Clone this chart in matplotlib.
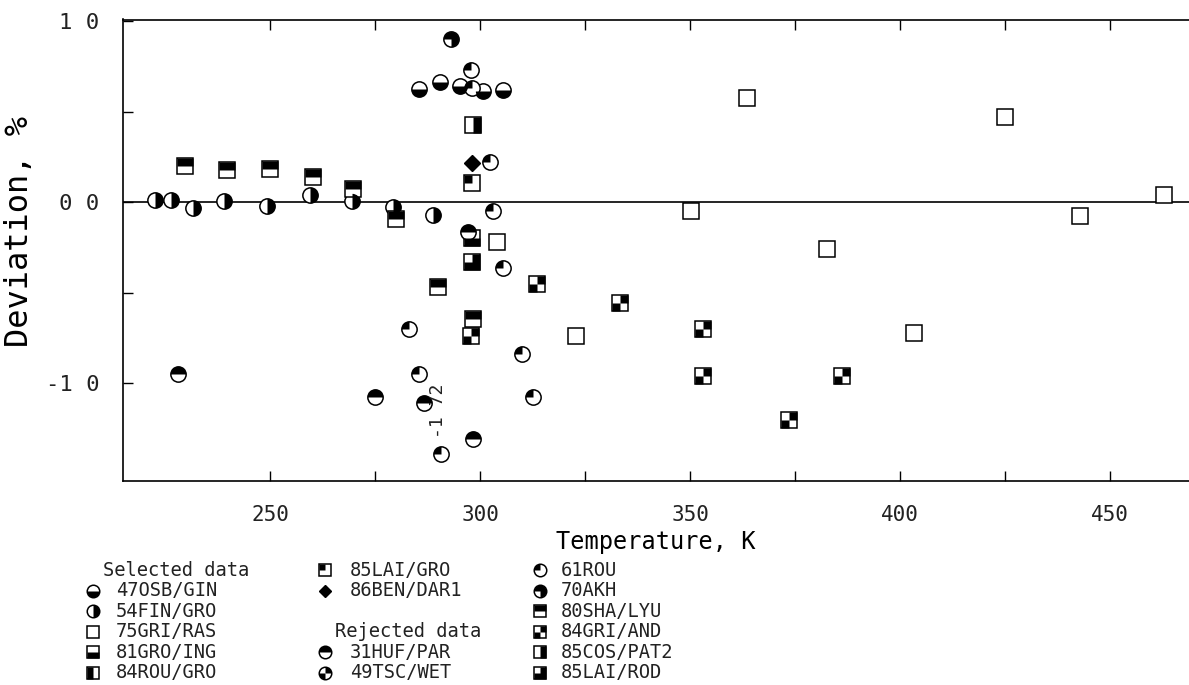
import matplotlib
matplotlib.use("Agg")
import matplotlib.pyplot as plt
from matplotlib.path import Path

# ---- data (T in K, deviation in %) ----
osb_T = [285.5, 290.5, 295.2, 300.6, 305.5]
osb_d = [0.626, 0.663, 0.641, 0.617, 0.623]

fin_T = [222.5, 226.4, 231.7, 239.0, 249.2, 259.5, 269.6, 279.4, 288.9]
fin_d = [0.011, 0.015, -0.031, 0.008, -0.022, 0.042, 0.008, -0.026, -0.071]

gri_ras_T = [304.0, 322.9, 350.3, 363.6, 382.5, 403.3, 425.0, 442.9, 462.9]
gri_ras_d = [-0.22, -0.74, -0.05, 0.575, -0.26, -0.72, 0.47, -0.075, 0.042]

gro_ing_T = [298.0]
gro_ing_d = [-0.20]

lai_gro_T = [298.0]
lai_gro_d = [0.106]

ben_T = [298.0]
ben_d = [0.217]

huf_T = [228.0, 275.0, 286.7, 297.2, 298.4]
huf_d = [-0.95, -1.076, -1.11, -0.163, -1.306]

rou61_T = [297.8, 298.0, 302.4, 303.2, 305.5, 283.2, 309.9, 285.5, 312.5, 290.7]
rou61_d = [0.73, 0.63, 0.225, -0.048, -0.365, -0.70, -0.836, -0.95, -1.076, -1.389]

akh_T = [293.0]
akh_d = [0.90]

sha_T = [229.8, 239.8, 250.0, 260.2, 269.8, 280.0, 290.1, 298.3]
sha_d = [0.203, 0.179, 0.184, 0.139, 0.075, -0.093, -0.467, -0.643]

gri_and_T = [313.5, 333.3, 297.8, 353.0, 353.2, 373.6, 386.1]
gri_and_d = [-0.45, -0.555, -0.74, -0.70, -0.96, -1.205, -0.96]

cos_T = [298.3]
cos_d = [0.426]

lai_rod_T = [298.0]
lai_rod_d = [-0.33]

xticks = [250, 300, 350, 400, 450]
yticks = [1.0, 0.0, -1.0]
ytick_labels = ["1 0", "0 0", "-1 0"]

FONT = "DejaVu Sans Mono"
W, H = 1189, 685


# ---- marker pieces ----
def box(pts):
    # polygon in [-1,1] box; two leading moves keep marker scaling equal to 's'
    verts = [(-1, -1), (1, 1)] + pts + [pts[0]]
    codes = [Path.MOVETO, Path.MOVETO, Path.MOVETO] + [Path.LINETO] * (len(pts) - 1) + [Path.CLOSEPOLY]
    return Path(verts, codes)


def wedge(a, b):
    return Path.wedge(a, b)


SQ_TOP = box([(-1, 0), (1, 0), (1, 1), (-1, 1)])
SQ_BOT = box([(-1, -1), (1, -1), (1, 0), (-1, 0)])
SQ_LEFT = box([(-1, -1), (0, -1), (0, 1), (-1, 1)])
SQ_RIGHT = box([(0, -1), (1, -1), (1, 1), (0, 1)])
SQ_TL = box([(-1, 0), (0, 0), (0, 1), (-1, 1)])
SQ_NOT_TL = box([(-1, -1), (1, -1), (1, 1), (0, 1), (0, 0), (-1, 0)])
SQ_CHECK = Path.make_compound_path(box([(0, 0), (1, 0), (1, 1), (0, 1)]),
                                   box([(-1, -1), (0, -1), (0, 0), (-1, 0)]))

styles = {
    "47OSB/GIN": ("o", [wedge(180, 360)]),
    "54FIN/GRO": ("o", [wedge(-90, 90)]),
    "75GRI/RAS": ("s", []),
    "81GRO/ING": ("s", [SQ_BOT]),
    "84ROU/GRO": ("s", [SQ_LEFT]),
    "85LAI/GRO": ("s", [SQ_TL]),
    "86BEN/DAR1": ("D", None),
    "31HUF/PAR": ("o", [wedge(0, 180)]),
    "49TSC/WET": ("o", [wedge(0, 90), wedge(180, 270)]),
    "61ROU": ("o", [wedge(90, 180)]),
    "70AKH": ("o", [wedge(-90, 180)]),
    "80SHA/LYU": ("s", [SQ_TOP]),
    "84GRI/AND": ("s", [SQ_CHECK]),
    "85COS/PAT2": ("s", [SQ_RIGHT]),
    "85LAI/ROD": ("s", [SQ_NOT_TL]),
}


def draw(ax, x, y, name, ms, z=3):
    base, parts = styles[name]
    if parts is None:
        ax.plot(x, y, ls="none", marker=base, ms=ms * 0.72, mfc="black", mec="black", zorder=z)
        return
    ax.plot(x, y, ls="none", marker=base, ms=ms, mfc="white", mec="black", mew=1.1, zorder=z)
    for p in parts:
        ax.plot(x, y, ls="none", marker=p, ms=ms, mfc="black", mec="none", zorder=z + 0.1)


fig = plt.figure(figsize=(W / 100, H / 100), dpi=100)
ax = fig.add_axes([123 / W, 1 - 481 / H, (W - 123) / W, (481 - 19.5) / H])

ax.set_xlim(215.0, 468.8)
ax.set_ylim(-1.54, 1.01)
ax.spines["right"].set_visible(False)
for s in ["left", "top", "bottom"]:
    ax.spines[s].set_linewidth(1.2)
ax.axhline(0, color="black", lw=1.2, zorder=1)

ax.set_xticks(xticks)
ax.set_xticks([275, 325, 375, 425], minor=True)
ax.set_yticks(yticks)
ax.set_yticklabels(ytick_labels)
ax.set_yticks([0.5, -0.5], minor=True)
ax.tick_params(which="both", direction="in", length=7, width=1, top=True, right=False,
               labelsize=16, labelcolor="#222222")
ax.tick_params(axis="x", pad=17, labelsize=15)
ax.tick_params(axis="y", pad=17)
for lab in ax.get_xticklabels() + ax.get_yticklabels():
    lab.set_family(FONT)

ax.set_xlabel("Temperature, K", family=FONT, fontsize=17)
ax.xaxis.set_label_coords(0.5, -0.1062)
ax.set_ylabel("Deviation, %", family=FONT, fontsize=23)
ax.yaxis.set_label_coords(-0.0826, 0.54)

MS = 11
draw(ax, fin_T, fin_d, "54FIN/GRO", MS)
draw(ax, sha_T, sha_d, "80SHA/LYU", MS)
draw(ax, osb_T, osb_d, "47OSB/GIN", MS)
draw(ax, gri_ras_T, gri_ras_d, "75GRI/RAS", MS)
draw(ax, gro_ing_T, gro_ing_d, "81GRO/ING", MS)
draw(ax, lai_gro_T, lai_gro_d, "85LAI/GRO", MS)
draw(ax, ben_T, ben_d, "86BEN/DAR1", MS)
draw(ax, huf_T, huf_d, "31HUF/PAR", MS)
draw(ax, rou61_T, rou61_d, "61ROU", MS)
draw(ax, akh_T, akh_d, "70AKH", MS)
draw(ax, gri_and_T, gri_and_d, "84GRI/AND", MS)
draw(ax, cos_T, cos_d, "85COS/PAT2", MS)
draw(ax, lai_rod_T, lai_rod_d, "85LAI/ROD", MS)

ax.text(290.0, -1.15, "-1 72", rotation=90, family=FONT, fontsize=13,
        ha="center", va="center", color="#222222")

# ---- legend drawn in pixel space below the plot ----
lg = fig.add_axes([0, 0, 1, 1], zorder=5)
lg.set_xlim(0, W)
lg.set_ylim(H, 0)
lg.axis("off")

col_mark = [93, 325, 540]
col_text = [116, 350, 561]
row_y = [570 + 20.6 * i for i in range(6)]
legend_cols = [
    ["Selected data", "47OSB/GIN", "54FIN/GRO", "75GRI/RAS", "81GRO/ING", "84ROU/GRO"],
    ["85LAI/GRO", "86BEN/DAR1", "", "Rejected data", "31HUF/PAR", "49TSC/WET"],
    ["61ROU", "70AKH", "80SHA/LYU", "84GRI/AND", "85COS/PAT2", "85LAI/ROD"],
]
for c, names in enumerate(legend_cols):
    for r, name in enumerate(names):
        if not name:
            continue
        if name.endswith("data"):
            lg.text(col_mark[c] + 10, row_y[r], name, family=FONT, fontsize=13.5,
                    va="center", ha="left", color="#222222")
            continue
        draw(lg, [col_mark[c]], [row_y[r]], name, 9, z=6)
        lg.text(col_text[c], row_y[r], name, family=FONT, fontsize=13.5,
                va="center", ha="left", color="#222222")

fig.savefig("out.png", dpi=100)
